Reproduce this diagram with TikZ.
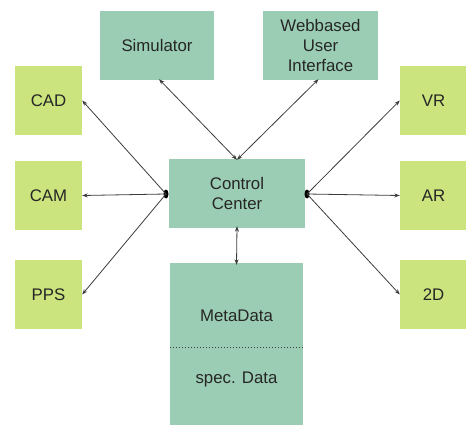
\documentclass[tikz,border=0pt]{standalone}
\usepackage{fontspec}
\setmainfont{Liberation Sans}
\usetikzlibrary{arrows.meta}
\definecolor{teal1}{RGB}{155,205,180}
\definecolor{lime1}{RGB}{204,228,125}
\definecolor{linec}{RGB}{60,60,60}
\tikzset{
  tbox/.style={fill=teal1, draw=none, inner sep=0pt, align=center, font=\fontsize{16.8}{20}\selectfont, text=black!85},
  gbox/.style={fill=lime1, draw=none, inner sep=0pt, align=center, minimum width=67pt, minimum height=69pt, font=\fontsize{16.8}{20}\selectfont, text=black!85},
  conn/.style={draw=linec, line width=0.8pt, -{Stealth[length=5.5pt,width=4pt]}},
  conn2/.style={draw=linec, line width=0.8pt, {Stealth[length=5.5pt,width=4pt]}-{Stealth[length=5.5pt,width=4pt]}}
}
\begin{document}
\begin{tikzpicture}[x=1pt,y=-1pt]
\useasboundingbox (0,0) rectangle (466,425);
% top boxes
\node[tbox, minimum width=114pt, minimum height=69pt] (sim) at (157,45.5) {Simulator};
\node[tbox, minimum width=115pt, minimum height=69pt] (web) at (320.5,45.5) {Webbased\\User\\Interface};
% control center
\node[tbox, minimum width=136pt, minimum height=69pt] (cc) at (237,193.5) {Control\\Center};
% metadata box
\node[tbox, minimum width=133pt, minimum height=162pt] (meta) at (236.5,344) {};
\node[font=\fontsize{16.8}{20}\selectfont, text=black!85] (mdtext) at (236.5,316) {MetaData};
\node[font=\fontsize{16.8}{20}\selectfont, text=black!85] (sdtext) at (236.5,379) {spec. Data};
\draw[linec, line width=1pt, dotted] (meta.west |- 0,347) coordinate (dl) -- (meta.east |- 0,347) coordinate (dr);
% left boxes
\node[gbox] (cad) at (48.5,100.5) {CAD};
\node[gbox] (cam) at (48.5,195.5) {CAM};
\node[gbox] (pps) at (48.5,294.5) {PPS};
% right boxes
\node[gbox] (vr) at (433.5,100.5) {VR};
\node[gbox] (ar) at (433.5,195.5) {AR};
\node[gbox] (twod) at (433.5,294.5) {2D};
% hubs
\coordinate (ldot) at (166,194);
\coordinate (rdot) at (307,194);
\fill[black] (ldot) ellipse (2.5 and 4.5);
\fill[black] (rdot) ellipse (2.5 and 4.5);
% connectors
\draw[conn] (ldot) -- (cad.east);
\draw[conn] (ldot) -- (cam.east);
\draw[conn] (ldot) -- (pps.east);
\draw[conn] (rdot) -- (vr.west);
\draw[conn] (rdot) -- (ar.west);
\draw[conn] (rdot) -- (twod.west);
\draw[conn2] ([xshift=2pt,yshift=1pt]sim.south) -- ([yshift=-1pt]cc.north);
\draw[conn2] ([xshift=-2pt,yshift=1pt]web.south) -- ([yshift=-1pt]cc.north);
\draw[conn2] ([yshift=2pt]cc.south) -- ([yshift=-2pt]meta.north);
\end{tikzpicture}
\end{document}
